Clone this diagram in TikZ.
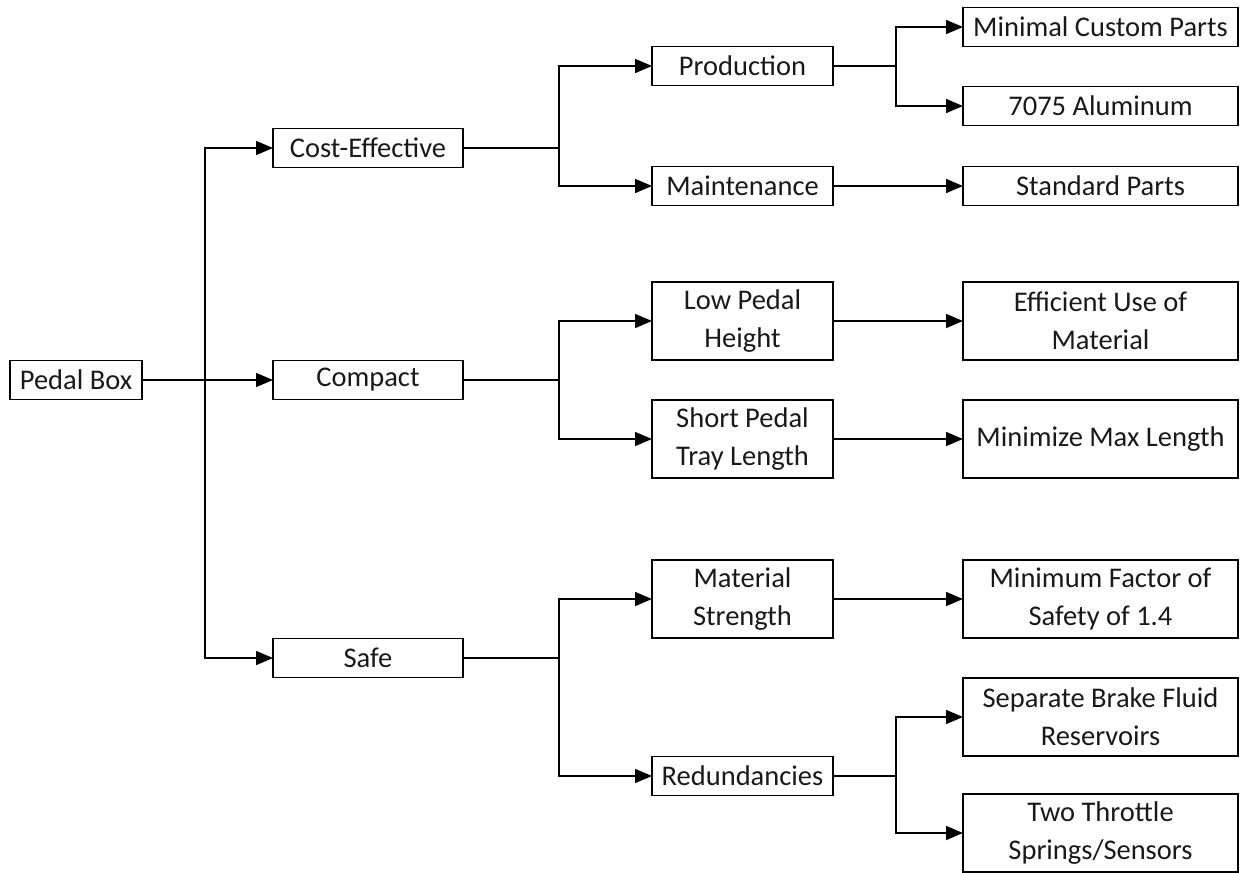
\documentclass[tikz,border=0pt]{standalone}
\usepackage{fontspec}
\setmainfont{Carlito}
\usetikzlibrary{arrows.meta}
\tikzset{
	box/.style={draw, line width=1.5pt, inner sep=0pt, outer sep=0pt, align=center,
		font=\fontsize{28.5}{38}\selectfont, text=black!90},
	lvla/.style={box, minimum width=132, minimum height=39},
	lvlb/.style={box, minimum width=190, minimum height=39},
	lvlc/.style={box, minimum width=181, minimum height=39},
	lvld/.style={box, minimum width=275, minimum height=39},
	tall/.style={minimum height=78},
	link/.style={line width=1.5pt, -{Triangle[length=17pt, width=14pt]}}
}
\newcommand{\fork}[3] % from node, offset of the branch in px, to node
{
	\draw[link] (#1.east) -- ++(#2,0) |- (#3.west);
}

\begin{document}
\begin{tikzpicture}[x=1pt, y=-1pt]
	% page of 1241 x 872 px, y downwards
	\useasboundingbox (0,0) rectangle (1241,872);
	% level 1
	\node[lvla] (pedal) at (76,380) {Pedal Box};
	% level 2
	\node[lvlb] (cost) at (368,148) {Cost-Effective};
	\node[lvlb] (compact) at (368,380) {Compact};
	\node[lvlb] (safe) at (368,658) {Safe};
	% level 3
	\node[lvlc] (prod) at (742.5,66) {Production};
	\node[lvlc] (maint) at (742.5,186) {Maintenance};
	\node[lvlc, tall] (low) at (742.5,321) {Low Pedal\\Height};
	\node[lvlc, tall] (short) at (742.5,439) {Short Pedal\\Tray Length};
	\node[lvlc, tall] (strength) at (742.5,599) {Material\\Strength};
	\node[lvlc] (redund) at (742.5,776) {Redundancies};
	% level 4
	\node[lvld] (custom) at (1100.5,27) {Minimal Custom Parts};
	\node[lvld] (alu) at (1100.5,106) {7075 Aluminum};
	\node[lvld] (std) at (1100.5,186) {Standard Parts};
	\node[lvld, tall] (effic) at (1100.5,321) {Efficient Use of\\Material};
	\node[lvld, tall] (maxlen) at (1100.5,439) {Minimize Max Length};
	\node[lvld, tall] (fos) at (1100.5,599) {Minimum Factor of\\Safety of 1.4};
	\node[lvld, tall] (brake) at (1100.5,717) {Separate Brake Fluid\\Reservoirs};
	\node[lvld, tall] (throttle) at (1100.5,833) {Two Throttle\\Springs/Sensors};

	\fork{pedal}{63}{cost}
	\fork{pedal}{63}{compact}
	\fork{pedal}{63}{safe}

	\fork{cost}{96}{prod}
	\fork{cost}{96}{maint}
	\fork{compact}{96}{low}
	\fork{compact}{96}{short}
	\fork{safe}{96}{strength}
	\fork{safe}{96}{redund}

	\fork{prod}{63}{custom}
	\fork{prod}{63}{alu}
	\fork{maint}{63}{std}
	\fork{low}{63}{effic}
	\fork{short}{63}{maxlen}
	\fork{strength}{63}{fos}
	\fork{redund}{63}{brake}
	\fork{redund}{63}{throttle}
\end{tikzpicture}
\end{document}
